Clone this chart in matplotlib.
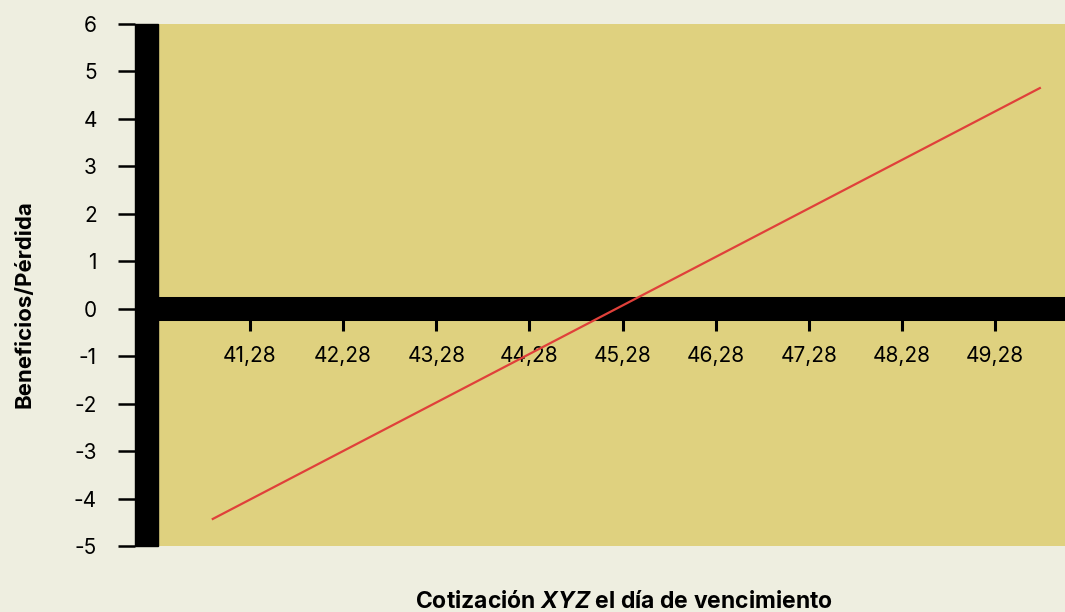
import matplotlib.pyplot as plt
from matplotlib.patches import Rectangle

# payoff line
precio = [40.88, 49.76]
beneficio = [-4.43, 4.65]

xticks = [41.28, 42.28, 43.28, 44.28, 45.28, 46.28, 47.28, 48.28, 49.28]
xtick_labels = ["41,28", "42,28", "43,28", "44,28", "45,28", "46,28", "47,28", "48,28", "49,28"]
yticks = [6, 5, 4, 3, 2, 1, 0, -1, -2, -3, -4, -5]
ytick_labels = ["6", "5", "4", "3", "2", "1", "0", "-1", "-2", "-3", "-4", "-5"]

plt.rcParams["font.family"] = ["Inter", "DejaVu Sans"]
plt.rcParams["mathtext.fontset"] = "custom"
plt.rcParams["mathtext.it"] = "Inter:italic:bold"

fig = plt.figure(figsize=(10.65, 6.12), dpi=100, facecolor="#eeeee0")
ax = fig.add_axes([135 / 1065, 66 / 612, 930 / 1065, 522 / 612])
ax.set_facecolor("#dfd17f")

ax.set_xlim(40.045, 50.03)
ax.set_ylim(-5, 6)

# thick zero line and thick left bar
ax.axhline(0, color="black", lw=17.3, zorder=3)
ax.add_patch(Rectangle((0, 0), 23 / 930, 1, transform=ax.transAxes,
                       color="black", zorder=4, clip_on=False))

ax.plot(precio, beneficio, color="#e0403a", lw=1.6, zorder=5)

for s in ["top", "right", "left"]:
    ax.spines[s].set_visible(False)
ax.spines["bottom"].set_position(("data", 0))
ax.spines["bottom"].set_visible(False)

ax.set_xticks(xticks)
ax.set_xticklabels(xtick_labels)
ax.set_yticks(yticks)
ax.set_yticklabels(ytick_labels)
ax.tick_params(axis="x", direction="out", length=16, width=2.2, pad=11,
               labelsize=15, colors="black")
ax.tick_params(axis="y", direction="out", length=12.5, width=1.8, pad=15,
               labelsize=15, colors="black")

fig.text(25 / 1065, 1 - 304 / 612, "Beneficios/Pérdida", rotation=90,
         ha="center", va="center", fontsize=16, fontweight="bold")
fig.text(624 / 1065, 1 - 602 / 612, r"Cotización $\mathit{XYZ}$ el día de vencimiento",
         ha="center", va="center", fontsize=16.5, fontweight="bold")

fig.savefig("out.png", dpi=100, facecolor=fig.get_facecolor())
